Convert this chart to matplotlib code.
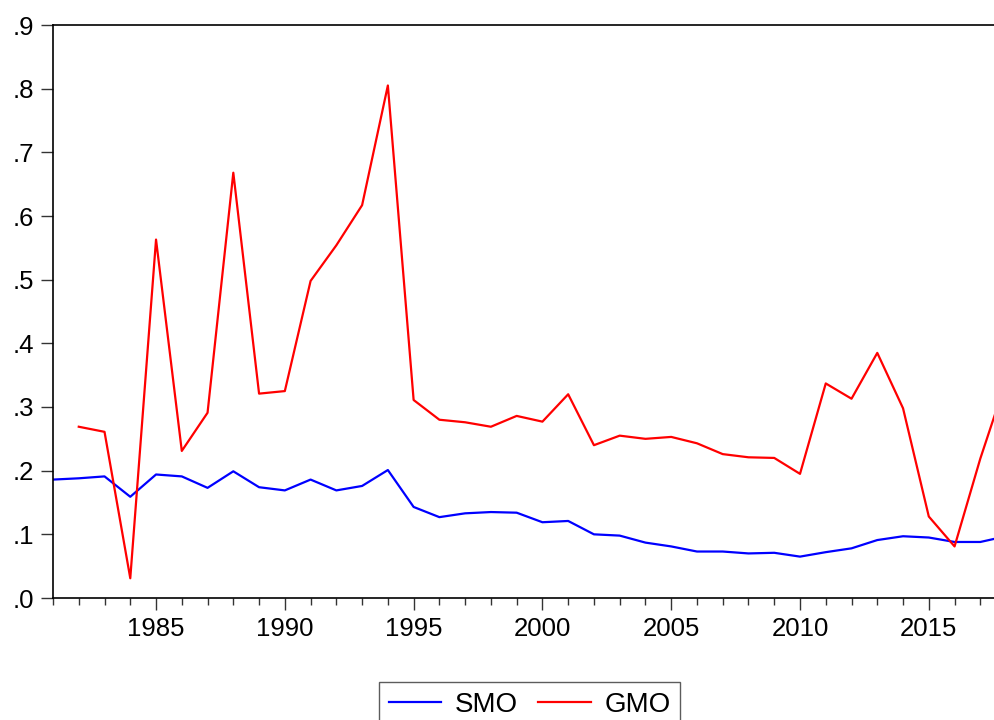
import numpy as np
import matplotlib
matplotlib.use("Agg")
import matplotlib.pyplot as plt
from matplotlib.ticker import MultipleLocator, FuncFormatter

plt.rcParams["font.family"] = ["Liberation Sans", "DejaVu Sans"]

# annual series
years = list(range(1981, 2019))
smo = [0.186, 0.188, 0.191, 0.159, 0.194, 0.191, 0.173, 0.199, 0.174, 0.169,
       0.186, 0.169, 0.176, 0.201, 0.143, 0.127, 0.133, 0.135, 0.134, 0.119,
       0.121, 0.100, 0.098, 0.087, 0.081, 0.073, 0.073, 0.070, 0.071, 0.065,
       0.072, 0.078, 0.091, 0.097, 0.095, 0.088, 0.088, 0.097]
# GMO starts in 1982
gmo = [np.nan, 0.269, 0.261, 0.031, 0.563, 0.231, 0.291, 0.668, 0.321, 0.325,
       0.498, 0.554, 0.617, 0.805, 0.311, 0.280, 0.276, 0.269, 0.286, 0.277,
       0.320, 0.240, 0.255, 0.250, 0.253, 0.243, 0.226, 0.221, 0.220, 0.195,
       0.337, 0.313, 0.385, 0.298, 0.128, 0.081, 0.219, 0.341]

fig = plt.figure(figsize=(9.95, 7.2), dpi=100)
ax = fig.add_axes([53 / 995, 122 / 720, 942 / 995, 573 / 720])

ax.plot(years, smo, color="#0000ff", lw=1.6, label="SMO")
ax.plot(years, gmo, color="#ff0000", lw=1.6, label="GMO")

ax.set_xlim(1981, 2017.57)
ax.set_ylim(0, 0.9)

ax.xaxis.set_major_locator(MultipleLocator(5))
ax.xaxis.set_minor_locator(MultipleLocator(1))
ax.yaxis.set_major_locator(MultipleLocator(0.1))
ax.yaxis.set_major_formatter(FuncFormatter(lambda v, p: f"{v:.1f}".lstrip("0")))

ax.tick_params(axis="both", which="major", direction="out", length=8.5,
               width=1.0, labelsize=18.5, pad=5, color="#333333")
ax.tick_params(axis="x", which="minor", direction="out", length=5,
               width=1.0, color="#333333")
ax.tick_params(axis="y", which="minor", left=False)

ax.spines["right"].set_visible(False)
for s in ["left", "top", "bottom"]:
    ax.spines[s].set_linewidth(1.2)

leg = fig.legend(loc="upper center", bbox_to_anchor=(529.5 / 995, 1 - 682 / 720),
                 ncol=2, fontsize=20, frameon=True, fancybox=False,
                 edgecolor="#333333", handlelength=1.9, handletextpad=0.47,
                 columnspacing=0.75, borderpad=0.35, borderaxespad=0)
leg.get_frame().set_linewidth(1.0)

fig.savefig("out.png", dpi=100)
plt.close()
